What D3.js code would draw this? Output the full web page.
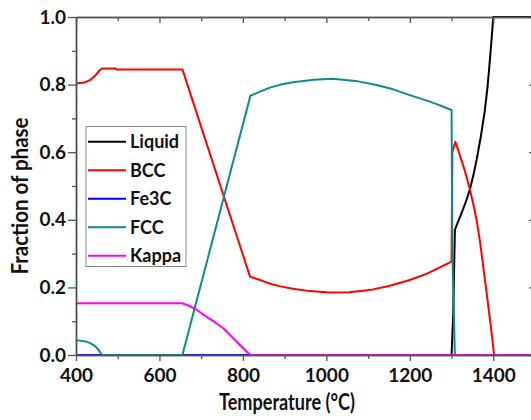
<!DOCTYPE html>
<html>
<head>
<meta charset="utf-8">
<script src="https://d3js.org/d3.v7.min.js"></script>
<style>
  body { margin: 0; background: #fff; }
  text { font-family: Lato, "Open Sans", sans-serif; font-weight: bold; fill: #111; }
</style>
</head>
<body>
<div id="chart"></div>
<script>
// phase fractions, [temperature, fraction]
var liquid = [[400, 0], [1300, 0], [1304, 0.12], [1308, 0.37], [1316, 0.395], [1324, 0.42],
              [1334, 0.452], [1344, 0.49], [1352, 0.53], [1360, 0.577], [1370, 0.645],
              [1380, 0.725], [1386, 0.79], [1391, 0.86], [1396, 0.935], [1400, 1.0], [1500, 1.0]];
var bcc = [[400, 0.803], [420, 0.806], [433, 0.813], [445, 0.825], [455, 0.84], [462, 0.848],
           [495, 0.848], [497, 0.845], [655, 0.845], [817, 0.232], [841, 0.222], [865, 0.211],
           [890, 0.203], [920, 0.196], [960, 0.189], [1008, 0.185], [1055, 0.186], [1104, 0.192],
           [1150, 0.204], [1200, 0.222], [1240, 0.24], [1272, 0.259], [1300, 0.276],
           [1302, 0.60], [1309, 0.631], [1317, 0.603], [1325, 0.572], [1333, 0.54], [1344, 0.49],
           [1352, 0.447], [1360, 0.40], [1368, 0.337], [1375, 0.27], [1383, 0.195], [1391, 0.115],
           [1397, 0.055], [1402, 0], [1500, 0]];
var fe3c = [[400, 0], [1500, 0]];
var fcc = [[400, 0.044], [420, 0.041], [433, 0.036], [445, 0.027], [455, 0.014], [462, 0],
           [655, 0], [818, 0.767], [841, 0.779], [865, 0.791], [890, 0.8], [920, 0.807], [970, 0.814],
           [1016, 0.817], [1070, 0.811], [1120, 0.799], [1160, 0.786], [1200, 0.769], [1250, 0.749],
           [1300, 0.725], [1302, 0.30], [1308, 0], [1500, 0]];
var kappa = [[400, 0.153], [655, 0.153], [672, 0.145], [689, 0.134], [713, 0.113], [733, 0.097],
             [753, 0.079], [770, 0.058], [785, 0.039], [817, 0], [1500, 0]];

var seriesNames = ["Liquid", "BCC", "Fe3C", "FCC", "Kappa"];
var seriesColors = ["#000000", "#ff0000", "#0000ff", "#0a8c8c", "#ff00ff"];
var seriesData = [liquid, bcc, fe3c, fcc, kappa];

var xMajor = [400, 600, 800, 1000, 1200, 1400];
var xMinor = [500, 700, 900, 1100, 1300, 1500];
var yMajor = [0, 0.2, 0.4, 0.6, 0.8, 1.0];
var yMinor = [0.1, 0.3, 0.5, 0.7, 0.9];

(function(){

  var width = 531, height = 420;
  var plotLeft = 76, plotRight = 535, plotTop = 17, plotBottom = 355;

  var svg = d3.select("#chart").append("svg")
      .attr("width", width).attr("height", height);

  var x = d3.scaleLinear().domain([400, 1500]).range([plotLeft, plotRight]);
  var y = d3.scaleLinear().domain([0, 1]).range([plotBottom, plotTop]);

  // curves
  var line = d3.line().x(function(d) { return x(d[0]); }).y(function(d) { return y(d[1]); });
  svg.append("g").selectAll("path")
      .data(seriesData)
      .enter().append("path")
      .attr("d", line)
      .attr("fill", "none")
      .attr("stroke", function(d, i) { return seriesColors[i]; })
      .attr("stroke-width", 2)
      .attr("stroke-linejoin", "round");

  // axes
  function styleAxis(g) {
    g.select(".domain").attr("stroke", "#555").attr("stroke-width", 1.5);
    g.selectAll(".tick line").attr("stroke", "#555").attr("stroke-width", 1.3);
    g.selectAll("text").attr("font-size", 19).attr("fill", "#111")
      .attr("font-family", "Lato, sans-serif").attr("font-weight", "bold");
  }

  svg.append("g").attr("transform", "translate(0," + plotBottom + ")")
      .call(d3.axisBottom(x).tickValues(xMinor).tickSize(4).tickFormat("").tickSizeOuter(0))
      .call(styleAxis);
  svg.append("g").attr("transform", "translate(0," + plotBottom + ")")
      .call(d3.axisBottom(x).tickValues(xMajor).tickSize(6).tickPadding(8).tickFormat(d3.format("d")).tickSizeOuter(0))
      .call(styleAxis);
  svg.append("g").attr("transform", "translate(0," + plotTop + ")")
      .call(d3.axisBottom(x).tickValues(xMinor).tickSize(4).tickFormat("").tickSizeOuter(0))
      .call(styleAxis);
  svg.append("g").attr("transform", "translate(0," + plotTop + ")")
      .call(d3.axisBottom(x).tickValues(xMajor).tickSize(6).tickFormat("").tickSizeOuter(0))
      .call(styleAxis);

  svg.append("g").attr("transform", "translate(" + plotLeft + ",0)")
      .call(d3.axisLeft(y).tickValues(yMinor).tickSize(4).tickFormat("").tickSizeOuter(0))
      .call(styleAxis);
  svg.append("g").attr("transform", "translate(" + plotLeft + ",0)")
      .call(d3.axisLeft(y).tickValues(yMajor).tickSize(8).tickPadding(2).tickFormat(d3.format(".1f")).tickSizeOuter(0))
      .call(styleAxis);
  svg.append("g").attr("transform", "translate(" + plotRight + ",0)")
      .call(d3.axisLeft(y).tickValues(yMinor).tickSize(4).tickFormat("").tickSizeOuter(0))
      .call(styleAxis);
  svg.append("g").attr("transform", "translate(" + plotRight + ",0)")
      .call(d3.axisLeft(y).tickValues(yMajor).tickSize(6).tickFormat("").tickSizeOuter(0))
      .call(styleAxis);

  // titles
  svg.append("text").attr("x", 287).attr("y", 410).attr("text-anchor", "middle")
      .attr("font-size", 23).attr("textLength", 136).attr("lengthAdjust", "spacingAndGlyphs")
      .text("Temperature (°C)");
  svg.append("text").attr("transform", "translate(28,196) rotate(-90)").attr("text-anchor", "middle")
      .attr("font-size", 23).attr("textLength", 157).attr("lengthAdjust", "spacingAndGlyphs")
      .text("Fraction of phase");

  // legend
  var legend = svg.append("g");
  legend.append("rect").attr("x", 86).attr("y", 126.5).attr("width", 100).attr("height", 140)
      .attr("fill", "#fff").attr("stroke", "#888").attr("stroke-width", 1);
  var entry = legend.selectAll("g.entry").data(seriesNames).enter().append("g")
      .attr("class", "entry")
      .attr("transform", function(d, i) { return "translate(0," + (141.7 + i * 28.5) + ")"; });
  entry.append("line").attr("x1", 88).attr("x2", 126).attr("y1", 0).attr("y2", 0)
      .attr("stroke", function(d, i) { return seriesColors[i]; }).attr("stroke-width", 2);
  entry.append("text").attr("x", 130).attr("y", 0).attr("dy", "0.36em")
      .attr("font-size", 18).text(function(d) { return d; });

})();
</script>
</body>
</html>
